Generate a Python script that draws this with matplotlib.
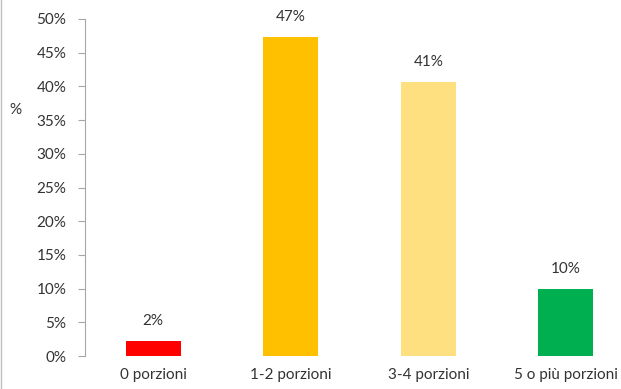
import numpy as np
import matplotlib.pyplot as plt
from matplotlib.ticker import MultipleLocator, FuncFormatter

plt.rcParams['font.family'] = ['Lato', 'DejaVu Sans']

# Data
categories = ["0 porzioni", "1-2 porzioni", "3-4 porzioni", "5 o più porzioni"]
values = [2.2, 47.3, 40.6, 9.9]
labels = ["2%", "47%", "41%", "10%"]
colors = ["#FF0000", "#FFC000", "#FFE081", "#00B050"]

fig = plt.figure(figsize=(6.21, 3.89), dpi=100)
# plot area runs a bit past the right edge of the picture
ax = fig.add_axes([84.5 / 621, 33 / 389, 550 / 621, 337 / 389])

x = np.arange(len(categories))
ax.bar(x, values, width=0.4, color=colors)
for xi, v, lab in zip(x, values, labels):
    ax.text(xi, v + 2.0, lab, ha="center", va="bottom", fontsize=11, color="#333333")

ax.set_xlim(-0.5, 3.5)
ax.set_ylim(0, 50)
ax.yaxis.set_major_locator(MultipleLocator(5))
ax.yaxis.set_major_formatter(FuncFormatter(lambda v, p: f"{v:.0f}%"))
ax.set_xticks(x)
ax.set_xticklabels(categories)

for side in ["top", "right", "bottom"]:
    ax.spines[side].set_visible(False)
ax.spines["left"].set_color("#A6A6A6")
ax.tick_params(axis="y", colors="#A6A6A6", labelcolor="#333333", length=5, labelsize=11, pad=8)
ax.tick_params(axis="x", length=0, labelcolor="#333333", labelsize=11, pad=9)

fig.text(15 / 621, 1 - 110 / 389, "%", ha="center", va="center", fontsize=11, color="#333333")

# thin grey frame line on the left edge
fig.add_artist(plt.Line2D([1 / 621, 1 / 621], [0, 1], color="#BFBFBF", lw=1))

fig.savefig("out.png", dpi=100)
